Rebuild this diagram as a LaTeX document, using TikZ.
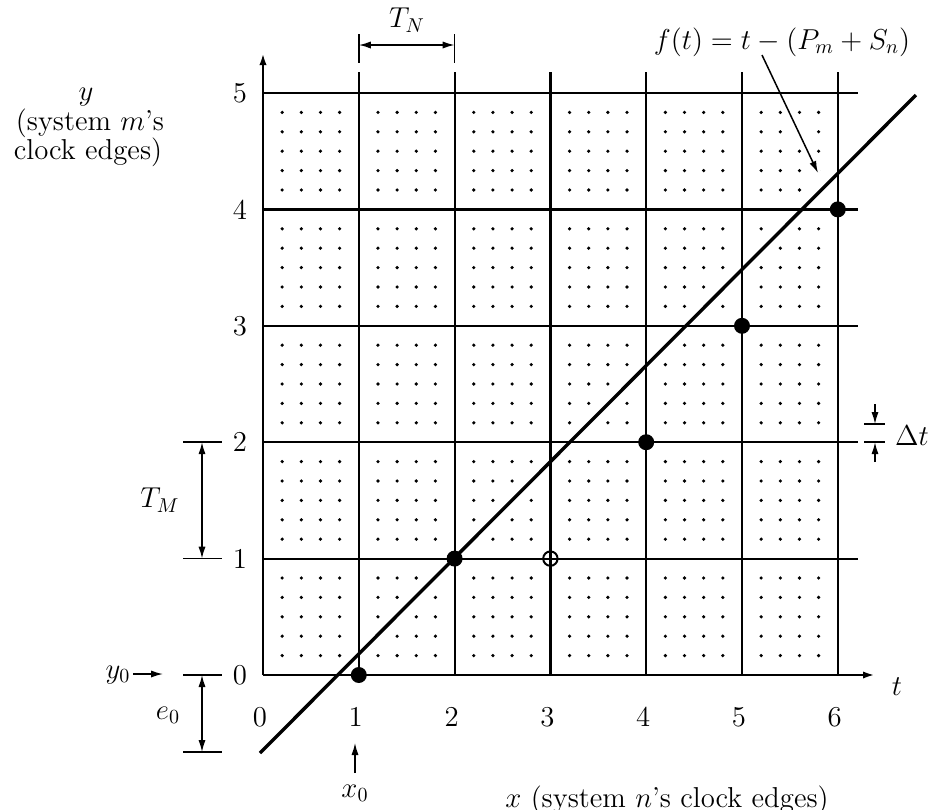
\documentclass[tikz,border=0pt]{standalone}
\usetikzlibrary{arrows.meta}
\begin{document}
\begin{tikzpicture}[x=0.5pt,y=-0.5pt,
  lab/.style={font=\fontsize{14.4}{16}\selectfont, inner sep=0pt},
  gridline/.style={line width=1.1pt},
  dimline/.style={line width=0.75pt},
  tip/.style={-{Latex[length=6pt,width=3.6pt]}},
  tips/.style={{Latex[length=6pt,width=3.6pt]}-{Latex[length=6pt,width=3.6pt]}},
]
\useasboundingbox (0,0) rectangle (934,810);
\def\ox{263}\def\oy{675}\def\ux{95.8}\def\uy{116.4}
% fine dot raster: 5 steps per T_N, 6 steps per T_M
\foreach \ci in {0,...,5}{\foreach \ck in {1,...,4}{\foreach \rj in {0,...,4}{\foreach \rl in {1,...,5}{
  \fill ({\ox+\ux*(\ci+\ck/5)},{\oy-\uy*(\rj+\rl/6)}) circle (1.8);}}}}
% key coordinates
\coordinate (O) at (\ox,\oy);
\coordinate (ytop) at (\ox,53);
\coordinate (xend) at (875,\oy);
\coordinate (fA) at (260,753);
\coordinate (fB) at (916,95);
\coordinate (anA) at (762,55);
\coordinate (anB) at (818,173);
% white underlay erasing raster dots along the lines
\draw[white, line width=4.5pt] (fA) -- (fB);
\draw[white, line width=3.5pt] (anA) -- (anB);
% grid
\foreach \ci in {1,...,6} \draw[gridline] ({\ox+\ux*\ci},\oy) -- ({\ox+\ux*\ci},72);
\foreach \rj in {1,...,5} \draw[gridline] (\ox,{\oy-\uy*\rj}) -- (858,{\oy-\uy*\rj});
\draw[line width=1.2pt, tip] (O) -- (ytop);
\draw[line width=1.2pt, tip] (O) -- (xend);
% f(t) line
\draw[line width=1.7pt] (fA) -- (fB);
% sample points
\foreach \t/\v in {1/0,2/1,4/2,5/3,6/4}
  \fill ({\ox+\ux*\t},{\oy-\uy*\v}) circle (8);
\draw[line width=1pt] ({\ox+\ux*3},{\oy-\uy}) circle (7.2);
% tick labels
\foreach \rj in {0,...,5} \node[lab] (yt\rj) at (240,{\oy-\uy*\rj}) {\rj};
\foreach \ci in {0,...,6} \node[lab] (xt\ci) at ({\ox+\ux*\ci-3},717) {\ci};
\node[lab] (tlab) at (897,687) {$t$};
% f(t) annotation
\node[lab] (flab) at (782,42) {$f(t)=t-(P_m+S_n)$};
\draw[dimline, tip] (anA) -- (anB);
% T_N dimension
\coordinate (tnLa) at (358.8,34); \coordinate (tnLb) at (358.8,63);
\coordinate (tnRa) at (454.6,34); \coordinate (tnRb) at (454.6,63);
\coordinate (tnL) at (358.8,45); \coordinate (tnR) at (454.6,45);
\draw[dimline] (tnLa) -- (tnLb);
\draw[dimline] (tnRa) -- (tnRb);
\draw[dimline, tips] (tnL) -- (tnR);
\node[lab] (TN) at (407,20) {$T_N$};
% T_M dimension
\coordinate (tmTa) at (183,442.2); \coordinate (tmTb) at (222,442.2);
\coordinate (tmBa) at (183,558.6); \coordinate (tmBb) at (222,558.6);
\coordinate (tmT) at (202,442.2); \coordinate (tmB) at (202,558.6);
\draw[dimline] (tmTa) -- (tmTb);
\draw[dimline] (tmBa) -- (tmBb);
\draw[dimline, tips] (tmT) -- (tmB);
\node[lab] (TM) at (160,500) {$T_M$};
% e_0 dimension
\coordinate (e0Ta) at (183,675); \coordinate (e0Tb) at (222,675);
\coordinate (e0Ba) at (183,752); \coordinate (e0Bb) at (222,752);
\coordinate (e0T) at (202,675); \coordinate (e0B) at (202,752);
\draw[dimline] (e0Ta) -- (e0Tb);
\draw[dimline] (e0Ba) -- (e0Bb);
\draw[dimline, tips] (e0T) -- (e0B);
\node[lab] (e0) at (168,715) {$e_0$};
% y_0 marker
\node[lab] (y0) at (118,675) {$y_0$};
\coordinate (y0a) at (133,674); \coordinate (y0b) at (163,674);
\draw[dimline, tip] (y0a) -- (y0b);
% x_0 marker
\node[lab] (x0) at (355,793) {$x_0$};
\coordinate (x0a) at (355,773); \coordinate (x0b) at (355,743);
\draw[dimline, tip] (x0a) -- (x0b);
% Delta t dimension
\coordinate (dtTa) at (864,424); \coordinate (dtTb) at (885,424);
\coordinate (dtBa) at (864,442.2); \coordinate (dtBb) at (885,442.2);
\coordinate (dtT0) at (875,404); \coordinate (dtT) at (875,424);
\coordinate (dtB0) at (875,462); \coordinate (dtB) at (875,442.2);
\draw[dimline] (dtTa) -- (dtTb);
\draw[dimline] (dtBa) -- (dtBb);
\draw[dimline, tip] (dtT0) -- (dtT);
\draw[dimline, tip] (dtB0) -- (dtB);
\node[lab] (dt) at (912,436) {$\Delta t$};
% axis captions
\node[lab, anchor=base] (ycap1) at (86,100) {$y$};
\node[lab, anchor=base] (ycap2) at (90,130) {(system $m$'s};
\node[lab, anchor=base] (ycap3) at (88,159) {clock edges)};
\node[lab] (xcap) at (667,800) {$x$ (system $n$'s clock edges)};
\end{tikzpicture}
\end{document}
